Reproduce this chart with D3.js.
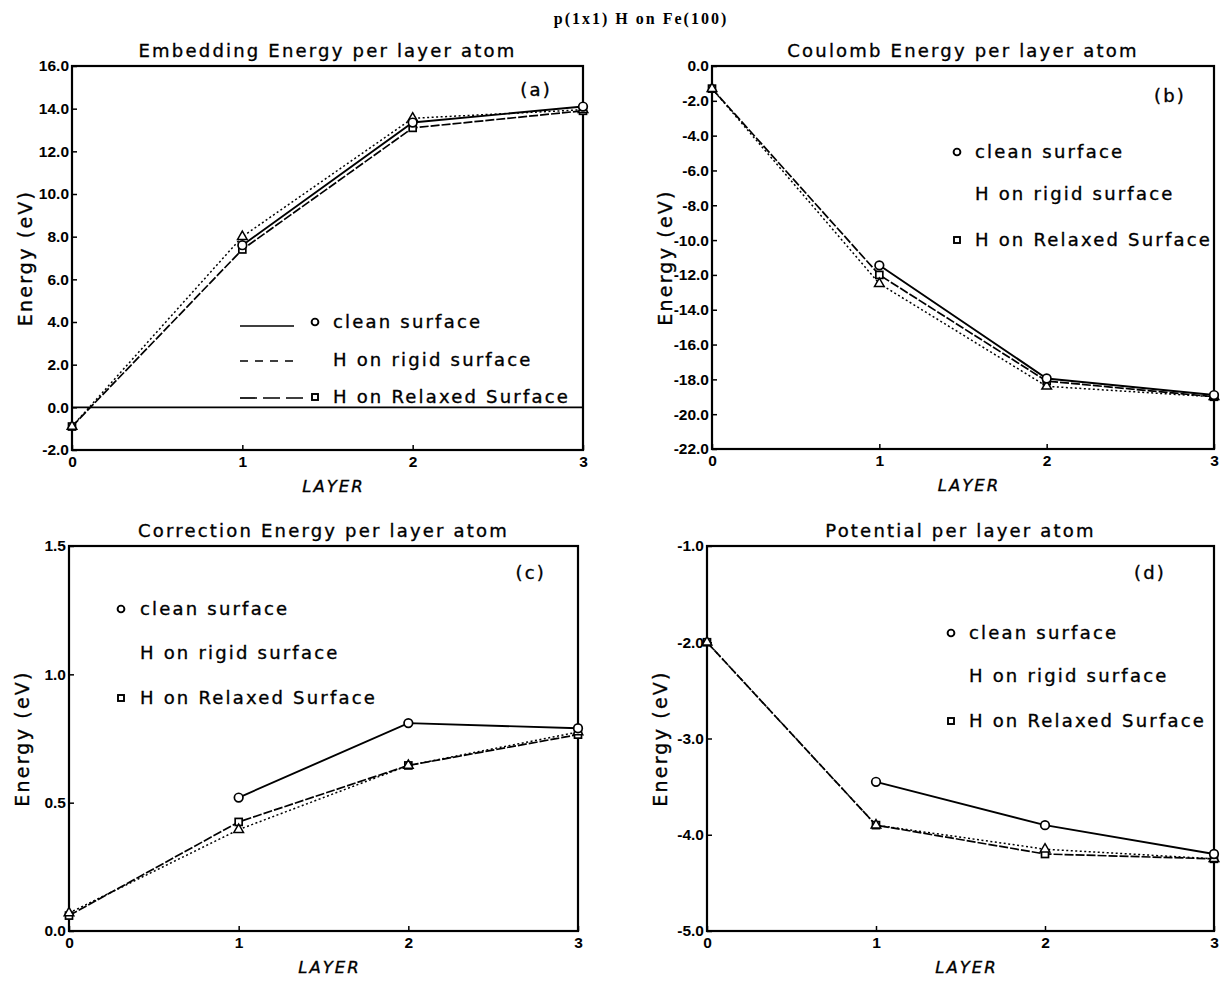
<!DOCTYPE html>
<html>
<head>
<meta charset="utf-8">
<script src="https://cdn.jsdelivr.net/npm/d3@7/dist/d3.min.js"></script>
<style>
  html, body { margin: 0; padding: 0; background: #fff; }
  svg { display: block; }
  .plotter { font-family: "DejaVu Sans", sans-serif; font-size: 18px; letter-spacing: 2.2px; fill: #000; stroke: #000; stroke-width: 0.35px; }
  .tick text { font-family: "Liberation Sans", Arial, sans-serif; font-weight: bold; font-size: 15.5px; fill: #000; }
  .tick line { stroke: #000; stroke-width: 1.5; }
</style>
</head>
<body>
<svg id="chart" width="1224" height="981"></svg>
<script>
// ---- data ---------------------------------------------------------------
const layers = [0, 1, 2, 3];

// (a) embedding energy per layer atom (eV)
const embeddingClean   = [null, 7.6, 13.35, 14.1];
const embeddingRigid   = [-0.9, 8.0, 13.55, 13.95];
const embeddingRelaxed = [-0.9, 7.4, 13.1, 13.9];
const embeddingTicks   = [-2, 0, 2, 4, 6, 8, 10, 12, 14, 16];

// (b) Coulomb energy per layer atom (eV)
const coulombClean   = [null, -11.45, -17.95, -18.9];
const coulombRigid   = [-1.3, -12.5, -18.4, -19.0];
const coulombRelaxed = [-1.3, -12.0, -18.1, -19.0];
const coulombTicks   = [-22, -20, -18, -16, -14, -12, -10, -8, -6, -4, -2, 0];

// (c) correction energy per layer atom (eV)
const correctionClean   = [null, 0.52, 0.81, 0.79];
const correctionRigid   = [0.07, 0.395, 0.645, 0.775];
const correctionRelaxed = [0.06, 0.425, 0.645, 0.765];
const correctionTicks   = [0, 0.5, 1.0, 1.5];

// (d) potential per layer atom (eV)
const potentialClean   = [null, -3.45, -3.9, -4.2];
const potentialRigid   = [-2.0, -3.9, -4.15, -4.25];
const potentialRelaxed = [-2.0, -3.9, -4.2, -4.25];
const potentialTicks   = [-5, -4, -3, -2, -1];

const seriesNames = ["clean surface", "H on rigid surface", "H on Relaxed Surface"];

// ---- drawing ------------------------------------------------------------
const svg = d3.select("#chart");
const fmt = d => d3.format(".1f")(d).replace("\u2212", "-");

svg.append("text")
  .attr("x", 641).attr("y", 18)
  .attr("text-anchor", "middle").attr("dominant-baseline", "central")
  .style("font-family", "'Liberation Serif', serif")
  .style("font-weight", "bold").style("font-size", "16px").style("letter-spacing", "2px")
  .text("p(1x1) H on Fe(100)");

const styles = {
  clean:   { dash: null,    width: 1.9, marker: "circle" },
  rigid:   { dash: "2,2.5", width: 1.5, marker: "triangle" },
  relaxed: { dash: "9,2",   width: 1.7, marker: "square" }
};

function drawMarker(g, kind, cx, cy) {
  if (kind === "circle") {
    g.append("circle").attr("cx", cx).attr("cy", cy).attr("r", 4.3)
      .attr("fill", "#fff").attr("stroke", "#000").attr("stroke-width", 1.7);
  } else if (kind === "square") {
    g.append("rect").attr("x", cx - 3.5).attr("y", cy - 3.5).attr("width", 7).attr("height", 7)
      .attr("fill", "#fff").attr("stroke", "#000").attr("stroke-width", 1.7);
  } else {
    g.append("path").attr("d", d3.symbol(d3.symbolTriangle, 40)())
      .attr("transform", `translate(${cx},${cy})`)
      .attr("fill", "#fff").attr("stroke", "#000").attr("stroke-width", 1.5);
  }
}

function panel(cfg) {
  const g = svg.append("g");
  const x = d3.scaleLinear().domain([0, 3]).range([cfg.left, cfg.right]);
  const y = d3.scaleLinear().domain(cfg.yDomain).range([cfg.bottom, cfg.top]);

  // title
  g.append("text").attr("class", "plotter")
    .attr("x", (cfg.left + cfg.right) / 2).attr("y", cfg.top - 16)
    .attr("text-anchor", "middle").attr("dominant-baseline", "central")
    .text(cfg.title);

  // axes with inward ticks
  g.append("g").attr("transform", `translate(${cfg.left},0)`)
    .call(d3.axisLeft(y).tickValues(cfg.ticks).tickFormat(fmt).tickSize(-5).tickPadding(3))
    .call(a => a.select(".domain").remove());
  g.append("g").attr("transform", `translate(0,${cfg.bottom})`)
    .call(d3.axisBottom(x).tickValues(layers).tickFormat(d3.format("d")).tickSize(-5).tickPadding(6))
    .call(a => a.select(".domain").remove());

  // frame
  g.append("rect").attr("x", cfg.left).attr("y", cfg.top)
    .attr("width", cfg.right - cfg.left).attr("height", cfg.bottom - cfg.top)
    .attr("fill", "none").attr("stroke", "#000").attr("stroke-width", 2.2);

  if (cfg.zeroLine) {
    g.append("line").attr("x1", cfg.left).attr("x2", cfg.right)
      .attr("y1", y(0)).attr("y2", y(0))
      .attr("stroke", "#000").attr("stroke-width", 1.7);
  }

  // axis titles
  g.append("text").attr("class", "plotter")
    .attr("transform", `translate(${cfg.left - 47},${(cfg.top + cfg.bottom) / 2}) rotate(-90)`)
    .attr("text-anchor", "middle").attr("dominant-baseline", "central")
    .style("font-size", "19px")
    .text("Energy (eV)");
  g.append("text").attr("class", "plotter")
    .attr("x", (cfg.left + cfg.right) / 2 + 6).attr("y", cfg.bottom + 36)
    .attr("text-anchor", "middle").attr("dominant-baseline", "central")
    .style("font-size", "16.5px").style("font-style", "italic").style("letter-spacing", "2px")
    .text("LAYER");

  // panel tag
  g.append("text").attr("class", "plotter")
    .attr("x", cfg.tag.x).attr("y", cfg.tag.y)
    .attr("text-anchor", "end").attr("dominant-baseline", "central")
    .text(cfg.tag.text);

  // series lines
  const line = d3.line().x(d => x(d.l)).y(d => y(d.v));
  const series = [
    { key: "relaxed", vals: cfg.relaxed },
    { key: "rigid", vals: cfg.rigid },
    { key: "clean", vals: cfg.clean }
  ];
  series.forEach(s => {
    const pts = layers.map((l, i) => ({ l, v: s.vals[i] })).filter(d => d.v !== null);
    const st = styles[s.key];
    g.append("path").datum(pts).attr("d", line)
      .attr("fill", "none").attr("stroke", "#000")
      .attr("stroke-width", st.width)
      .attr("stroke-dasharray", st.dash);
  });
  series.forEach(s => {
    layers.forEach((l, i) => {
      if (s.vals[i] !== null) drawMarker(g, styles[s.key].marker, x(l), y(s.vals[i]));
    });
  });

  // legend
  const L = cfg.legend;
  const keys = ["clean", "rigid", "relaxed"];
  keys.forEach((k, i) => {
    const ly = L.ys[i];
    if (L.lines) {
      const dash = k === "clean" ? null : (k === "rigid" ? "8,7" : "17,6");
      g.append("line").attr("x1", L.lineX0).attr("x2", L.lineX1[i])
        .attr("y1", L.lineYs[i]).attr("y2", L.lineYs[i])
        .attr("stroke", "#000").attr("stroke-width", 1.7)
        .attr("stroke-dasharray", dash);
    }
    if (k === "clean") {
      g.append("circle").attr("cx", L.markerX).attr("cy", ly + 1).attr("r", 3.4)
        .attr("fill", "#fff").attr("stroke", "#000").attr("stroke-width", 1.9);
    } else if (k === "relaxed") {
      g.append("rect").attr("x", L.markerX - 3).attr("y", ly - 2).attr("width", 6).attr("height", 6)
        .attr("fill", "#fff").attr("stroke", "#000").attr("stroke-width", 1.9);
    }
    g.append("text").attr("class", "plotter")
      .attr("x", L.textX).attr("y", ly)
      .attr("dominant-baseline", "central")
      .text(seriesNames[i]);
  });
}

panel({
  left: 72, right: 583, top: 66, bottom: 450,
  yDomain: [-2, 16], ticks: embeddingTicks, zeroLine: true,
  title: "Embedding Energy per layer atom",
  tag: { text: "(a)", x: 552, y: 89 },
  clean: embeddingClean, rigid: embeddingRigid, relaxed: embeddingRelaxed,
  legend: { lines: true, lineX0: 240, lineX1: [294, 296, 308], lineYs: [326, 361, 398],
            ys: [321, 359, 396], markerX: 315, textX: 333 }
});

panel({
  left: 712, right: 1214, top: 66, bottom: 449,
  yDomain: [-22, 0], ticks: coulombTicks,
  title: "Coulomb Energy per layer atom",
  tag: { text: "(b)", x: 1186, y: 95 },
  clean: coulombClean, rigid: coulombRigid, relaxed: coulombRelaxed,
  legend: { lines: false, ys: [151, 193, 239], markerX: 957, textX: 975 }
});

panel({
  left: 69, right: 578, top: 546, bottom: 931,
  yDomain: [0, 1.5], ticks: correctionTicks,
  title: "Correction Energy per layer atom",
  tag: { text: "(c)", x: 546, y: 572 },
  clean: correctionClean, rigid: correctionRigid, relaxed: correctionRelaxed,
  legend: { lines: false, ys: [608, 652, 697], markerX: 121, textX: 140 }
});

panel({
  left: 707, right: 1214, top: 546, bottom: 931,
  yDomain: [-5, -1], ticks: potentialTicks,
  title: "Potential per layer atom",
  tag: { text: "(d)", x: 1166, y: 572 },
  clean: potentialClean, rigid: potentialRigid, relaxed: potentialRelaxed,
  legend: { lines: false, ys: [632, 675, 720], markerX: 951, textX: 969 }
});
</script>
</body>
</html>
